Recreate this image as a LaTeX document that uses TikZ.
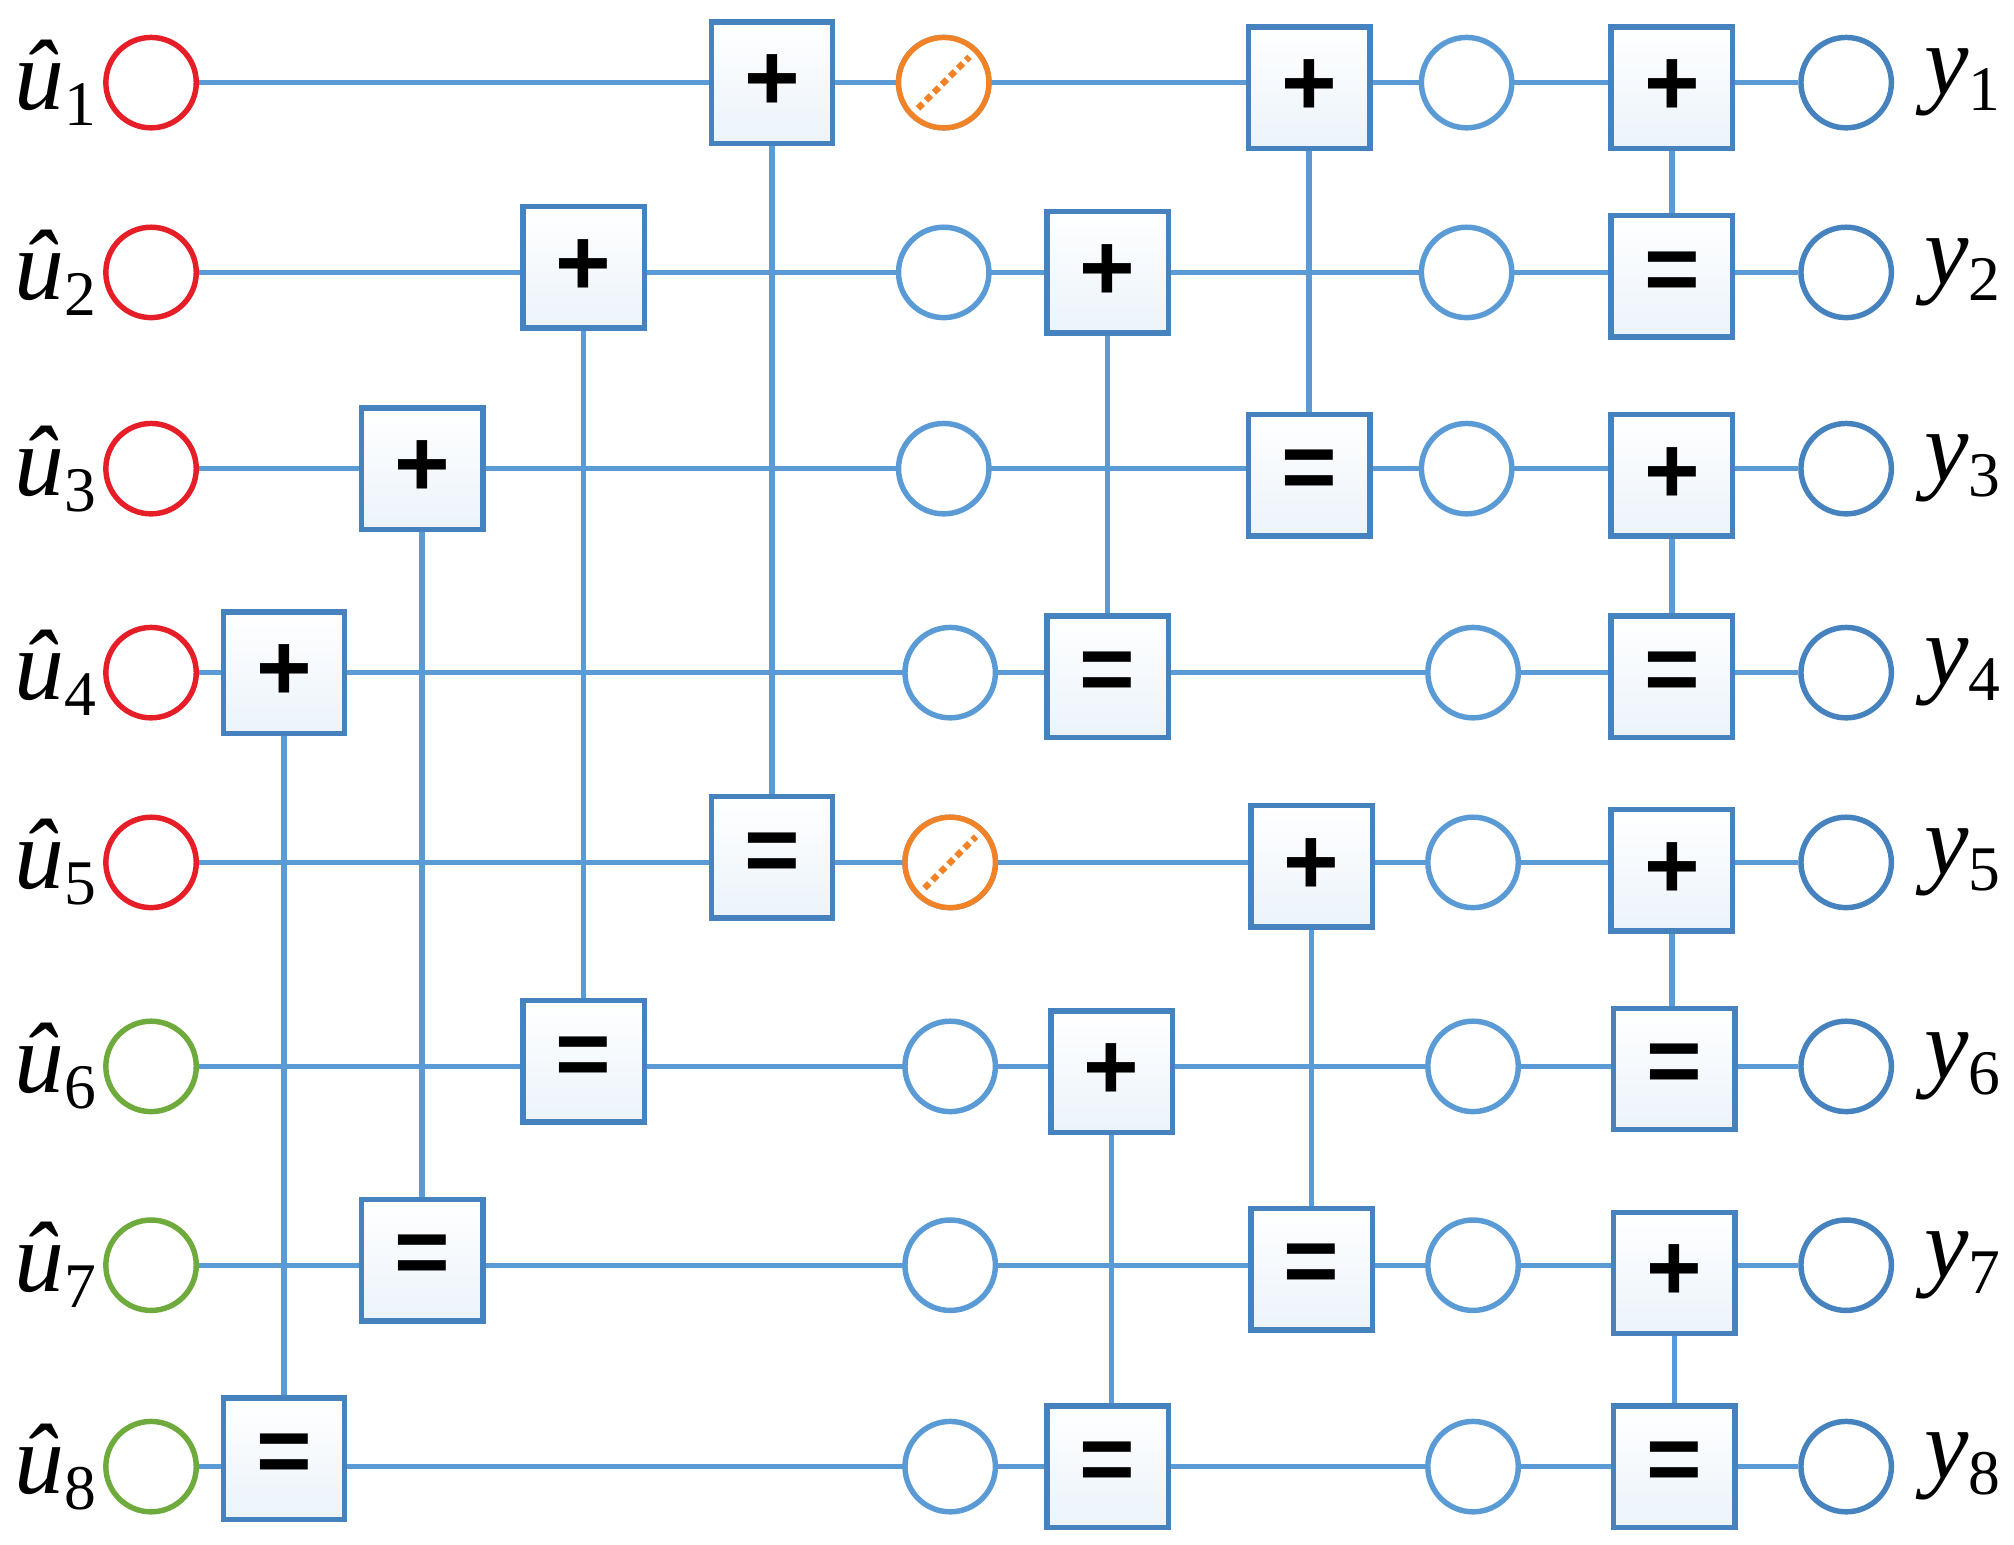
\documentclass[tikz,border=0pt]{standalone}
\usetikzlibrary{calc,backgrounds}
\usepackage{fontspec}
\setmainfont{Liberation Serif}
\newfontfamily\boxfont{Liberation Sans}
\newcommand{\mysub}[1]{\raisebox{-0.35ex}{\fontsize{14}{16}\selectfont #1}}
\begin{document}
\begin{tikzpicture}[x=0.01cm,y=-0.01cm,
  wire/.style={draw=lb,line width=1.2pt},
  circ/.style={circle,minimum size=0.7cm,inner sep=0pt,line width=1.2pt,draw=#1,fill=white},
  bx/.style={rectangle,minimum size=0.94cm,inner sep=0pt,line width=1.2pt,draw=db,top color=white,bottom color=lb!12,font=\boxfont\fontsize{21}{24}\selectfont\bfseries},
  lab/.style={font=\fontsize{22}{24}\selectfont,inner sep=0pt}]
\definecolor{lb}{RGB}{91,155,213}
\definecolor{db}{RGB}{70,130,190}
\definecolor{rd}{RGB}{230,30,40}
\definecolor{gr}{RGB}{110,170,60}
\definecolor{orng}{RGB}{240,130,40}
\useasboundingbox (0,0) rectangle (1560,1196);
\def\ys{{0,64,211,363,521,668,826,980,1136}}
\foreach \i in {1,...,8}{
  \pgfmathsetmacro{\yy}{\ys[\i]}
  \ifnum\i<6 \def\cc{rd}\else\def\cc{gr}\fi
  \node[circ=\cc] (L\i) at (117,\yy) {};
  \node[lab,anchor=east] (UL\i) at (75,\yy) {\textit{\^u}\mysub{\i}};
  \node[circ=db] (R\i) at (1430,\yy) {};
  \node[lab,anchor=west] (YL\i) at (1490,\yy) {\textit{y}\mysub{\i}};
  \pgfmathsetmacro{\mx}{\i<4?731:736}
  \pgfmathsetmacro{\cx}{\i<4?1136:1141}
  \node[circ=lb] (M\i) at (\mx,\yy) {};
  \node[circ=lb] (C\i) at (\cx,\yy) {};
}
\foreach \i in {1,5}{
  \node[circ=orng] (H\i) at (M\i) {};
  \draw[orng,line width=1.4pt,dash pattern=on 1.5pt off 1pt] ($(H\i.south west)!0.12!(H\i.north east)$) -- ($(H\i.south west)!0.88!(H\i.north east)$);
}
\node[bx] (A4) at (220,521) {+};  \node[bx] (A8) at (220,1130) {=};
\node[bx] (B3) at (327,363) {+};  \node[bx] (B7) at (327,976) {=};
\node[bx] (D2) at (452,207) {+};  \node[bx] (D6) at (452,822) {=};
\node[bx] (E1) at (598,64) {+};   \node[bx] (E5) at (598,664) {=};
\node[bx] (F2) at (858,211) {+};  \node[bx] (F4) at (858,524) {=};
\node[bx] (F6) at (861,830) {+};  \node[bx] (F8) at (858,1136) {=};
\node[bx] (G1) at (1014,68) {+};  \node[bx] (G3) at (1014,368) {=};
\node[bx] (G5) at (1016,671) {+}; \node[bx] (G7) at (1016,983) {=};
\node[bx] (K1) at (1295,68) {+};  \node[bx] (K2) at (1295,214) {=};
\node[bx] (K3) at (1295,368) {+}; \node[bx] (K4) at (1295,524) {=};
\node[bx] (K5) at (1295,674) {+}; \node[bx] (K6) at (1297,828) {=};
\node[bx] (K7) at (1297,986) {+}; \node[bx] (K8) at (1297,1136) {=};
\begin{scope}[on background layer]
\foreach \i in {1,...,8}{ \draw[wire] (L\i) -- (R\i); }
\foreach \a/\b in {A4/A8,B3/B7,D2/D6,E1/E5,F2/F4,F6/F8,G1/G3,G5/G7,K1/K2,K3/K4,K5/K6,K7/K8}{
  \draw[wire] (\a) -- (\a |- \b);
}
\end{scope}
\end{tikzpicture}
\end{document}
